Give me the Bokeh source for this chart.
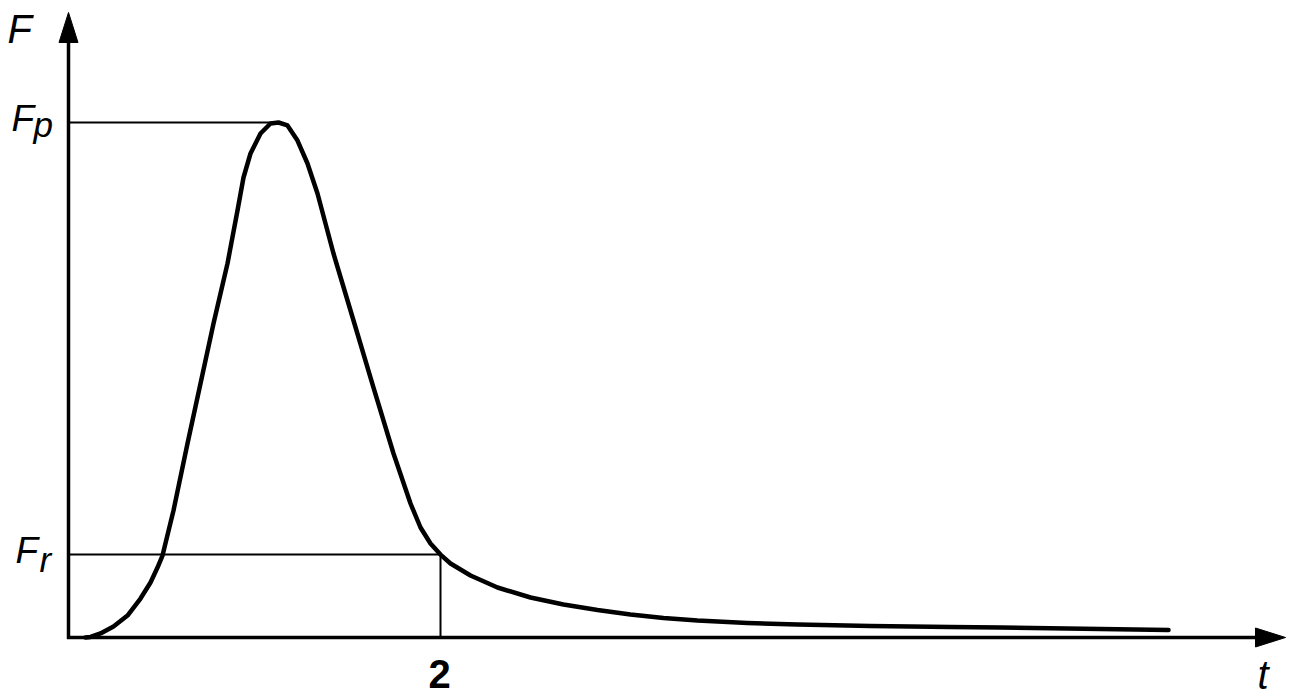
from bokeh.plotting import figure
from bokeh.embed import file_html
from bokeh.resources import INLINE
from bokeh.core.properties import value

# ---- data (t in units, F normalised to peak force) ----
t_vals = [0.0914, 0.1183, 0.1720, 0.2419, 0.3172, 0.3871, 0.4409, 0.4785, 0.5054,
          0.5645, 0.6398, 0.7097, 0.7796, 0.8548, 0.9086, 0.9409, 0.9785, 1.0323,
          1.0860, 1.1290, 1.1774, 1.2312, 1.2849, 1.3387, 1.4247, 1.5323, 1.6398,
          1.7473, 1.8387, 1.8925, 1.9462, 2.0000, 2.0538, 2.1613, 2.3065, 2.4839,
          2.6613, 2.8441, 3.0215, 3.1989, 3.3817, 3.6505, 3.9194, 4.3118, 4.7419,
          5.0108, 5.5484, 5.9140]
f_vals = [0.0, 0.0010, 0.0078, 0.0214, 0.0427, 0.0757, 0.1068, 0.1359, 0.1592,
          0.2466, 0.3767, 0.4932, 0.6097, 0.7262, 0.8291, 0.8932, 0.9398, 0.9786,
          0.9981, 1.0000, 0.9942, 0.9650, 0.9204, 0.8621, 0.7456, 0.6155, 0.4854,
          0.3573, 0.2602, 0.2136, 0.1825, 0.1610, 0.1437, 0.1204, 0.0971, 0.0777,
          0.0641, 0.0534, 0.0447, 0.0379, 0.0330, 0.0282, 0.0252, 0.0223, 0.0204,
          0.0194, 0.0165, 0.0146]

F_PEAK = 1.0
T_PEAK = 1.129
F_RES = 0.161
T_RES = 2.0
axis_labels = {"y": "F", "x": "t"}
level_labels = [("F", "p"), ("F", "r")]
tick_label = "2"

# ---- layout ----
W, H = 1294, 697
PX_T = 186.0   # pixels per t unit
PX_F = 515.0   # pixels per F unit
OX, OY = 68, 60  # origin offset (px from left, px from bottom)
TXT_SHIFT = 13   # baseline correction (px)


def sx(x):
    """picture x (px) -> data t"""
    return (x - OX) / PX_T


def sy(y):
    """picture y (px from top) -> data F"""
    return (H - OY - y) / PX_F


def dx(px):
    return px / PX_T


def dy(px):
    return px / PX_F


p = figure(width=W, height=H, output_backend="svg", toolbar_location=None,
           x_range=(-OX / PX_T, (W - OX) / PX_T),
           y_range=(-OY / PX_F, (H - OY) / PX_F),
           min_border=0, outline_line_color=None)
p.axis.visible = False
p.grid.visible = False
p.background_fill_color = "white"
p.border_fill_color = "white"

T_AXIS = sx(1285)
F_AXIS = sy(12)
HEAD_L, HEAD_W = 30, 9.5

# axes
p.line([0, 0], [-dy(1.5), F_AXIS - dy(HEAD_L - 2)], line_color="black", line_width=3.5)
p.line([-dx(1.5), T_AXIS - dx(HEAD_L - 2)], [0, 0], line_color="black", line_width=3.5)
p.patch([0, -dx(HEAD_W), dx(HEAD_W)],
        [F_AXIS, F_AXIS - dy(HEAD_L), F_AXIS - dy(HEAD_L)],
        fill_color="black", line_color="black", line_width=1)
p.patch([T_AXIS, T_AXIS - dx(HEAD_L), T_AXIS - dx(HEAD_L)],
        [0, dy(HEAD_W), -dy(HEAD_W)],
        fill_color="black", line_color="black", line_width=1)

# guide lines
p.line([0, T_PEAK], [F_PEAK, F_PEAK], line_color="black", line_width=2)
p.line([0, T_RES], [F_RES, F_RES], line_color="black", line_width=2)
p.line([T_RES, T_RES], [0, F_RES], line_color="black", line_width=2)

# curve
p.line(t_vals, f_vals, line_color="black", line_width=4.5,
       line_join="round", line_cap="round")

FONT = value("Liberation Sans")


def label(txt, x, y_px, size, style="italic", align="left"):
    p.text([x], [sy(y_px - TXT_SHIFT)], text=[txt], text_font=FONT,
           text_font_size=f"{size}px", text_font_style=style, text_align=align,
           text_baseline="alphabetic", text_color="black")


label(axis_labels["y"], sx(7), 41, 40)
label(level_labels[0][0], sx(11), 131, 37)
label(level_labels[0][1], sx(33), 137, 35)
label(level_labels[1][0], sx(15), 563, 37)
label(level_labels[1][1], sx(39), 572, 35)
label(tick_label, T_RES - dx(1), 686, 40, style="bold", align="center")
label(axis_labels["x"], sx(1257), 687, 40)

open("out.html", "w").write(file_html(p, INLINE))
